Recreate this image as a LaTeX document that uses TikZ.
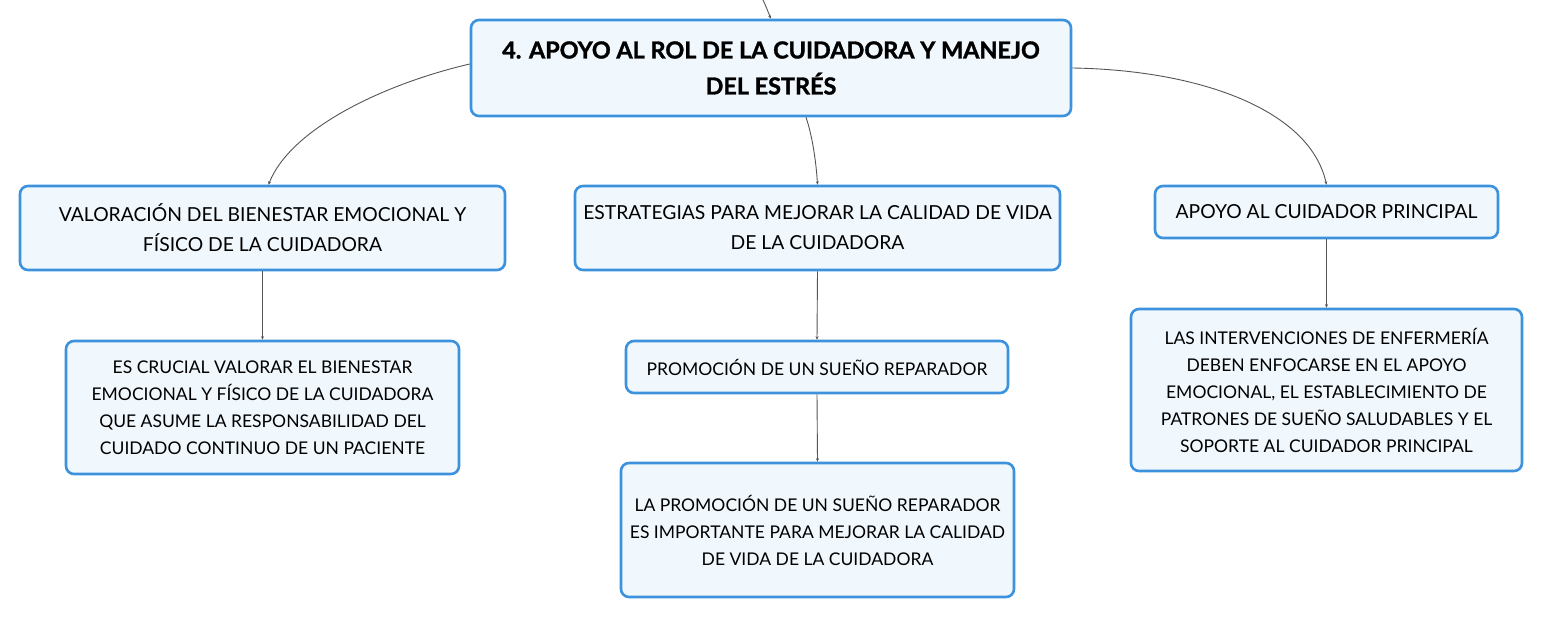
\documentclass[tikz,border=0pt]{standalone}
\usepackage{fontspec}
\setmainfont{Lato}
\newfontfamily\titlefont{Lato}[BoldFeatures={FakeBold=1.4}]
\usetikzlibrary{arrows.meta}
\definecolor{boxborder}{HTML}{3C92DC}
\definecolor{boxfill}{HTML}{F0F7FD}
\definecolor{linegray}{HTML}{555555}
\tikzset{
  topic/.style={draw=boxborder, fill=boxfill, line width=2.6pt, rounded corners=8pt,
    align=center, inner sep=0pt, text=black},
  lvlone/.style={topic, font=\fontsize{19.3}{30}\selectfont},
  lvltwo/.style={topic, font=\fontsize{17.5}{27}\selectfont},
  conn/.style={draw=linegray, line width=0.9pt, -{Stealth[length=3.5pt,width=3pt]}},
}
\begin{document}
\begin{tikzpicture}[x=1pt,y=-1pt]
\useasboundingbox (0,0) rectangle (1543,618);
\fill[white] (0,0) rectangle (1543,618);

\node[topic, font=\titlefont\bfseries\fontsize{23.4}{36}\selectfont, minimum width=600, minimum height=96] (top) at (771,68)
  {4. APOYO AL ROL DE LA CUIDADORA Y MANEJO\\DEL ESTRÉS};

\node[lvlone, minimum width=485, minimum height=84] (l1) at (262.5,228)
  {VALORACIÓN DEL BIENESTAR EMOCIONAL Y\\FÍSICO DE LA CUIDADORA};
\node[lvlone, minimum width=485, minimum height=84] (m1) at (817.5,228)
  {ESTRATEGIAS PARA MEJORAR LA CALIDAD DE VIDA\\DE LA CUIDADORA};
\node[lvlone, minimum width=343, minimum height=52] (r1) at (1326.5,212)
  {APOYO AL CUIDADOR PRINCIPAL};

\node[lvltwo, minimum width=393, minimum height=133] (l2) at (262.5,407.5)
  {ES CRUCIAL VALORAR EL BIENESTAR\\EMOCIONAL Y FÍSICO DE LA CUIDADORA\\QUE ASUME LA RESPONSABILIDAD DEL\\CUIDADO CONTINUO DE UN PACIENTE};
\node[lvltwo, minimum width=382, minimum height=52] (m2) at (817,367)
  {PROMOCIÓN DE UN SUEÑO REPARADOR};
\node[lvltwo, minimum width=393, minimum height=134] (m3) at (817.5,530)
  {LA PROMOCIÓN DE UN SUEÑO REPARADOR\\ES IMPORTANTE PARA MEJORAR LA CALIDAD\\DE VIDA DE LA CUIDADORA};
\node[lvltwo, minimum width=391, minimum height=162] (r2) at (1326.5,390)
  {LAS INTERVENCIONES DE ENFERMERÍA\\DEBEN ENFOCARSE EN EL APOYO\\EMOCIONAL, EL ESTABLECIMIENTO DE\\PATRONES DE SUEÑO SALUDABLES Y EL\\SOPORTE AL CUIDADOR PRINCIPAL};

\coordinate (in0) at (763,0);
\draw[conn] (in0) .. controls (766,6) and (768,12) .. (top.north);
\draw[conn] ([yshift=4]top.west) .. controls (380,85) and (290,130) .. ([xshift=6]l1.north);
\draw[conn] ([xshift=35]top.south) .. controls (812,135) and (816,160) .. (m1.north);
\draw[conn] (top.east) .. controls (1200,70) and (1310,110) .. (r1.north);
\draw[conn] (l1.south) -- (l2.north);
\draw[conn] (m1.south) -- (m2.north);
\draw[conn] (m2.south) -- (m3.north);
\draw[conn] (r1.south) -- (r2.north);
\end{tikzpicture}
\end{document}
